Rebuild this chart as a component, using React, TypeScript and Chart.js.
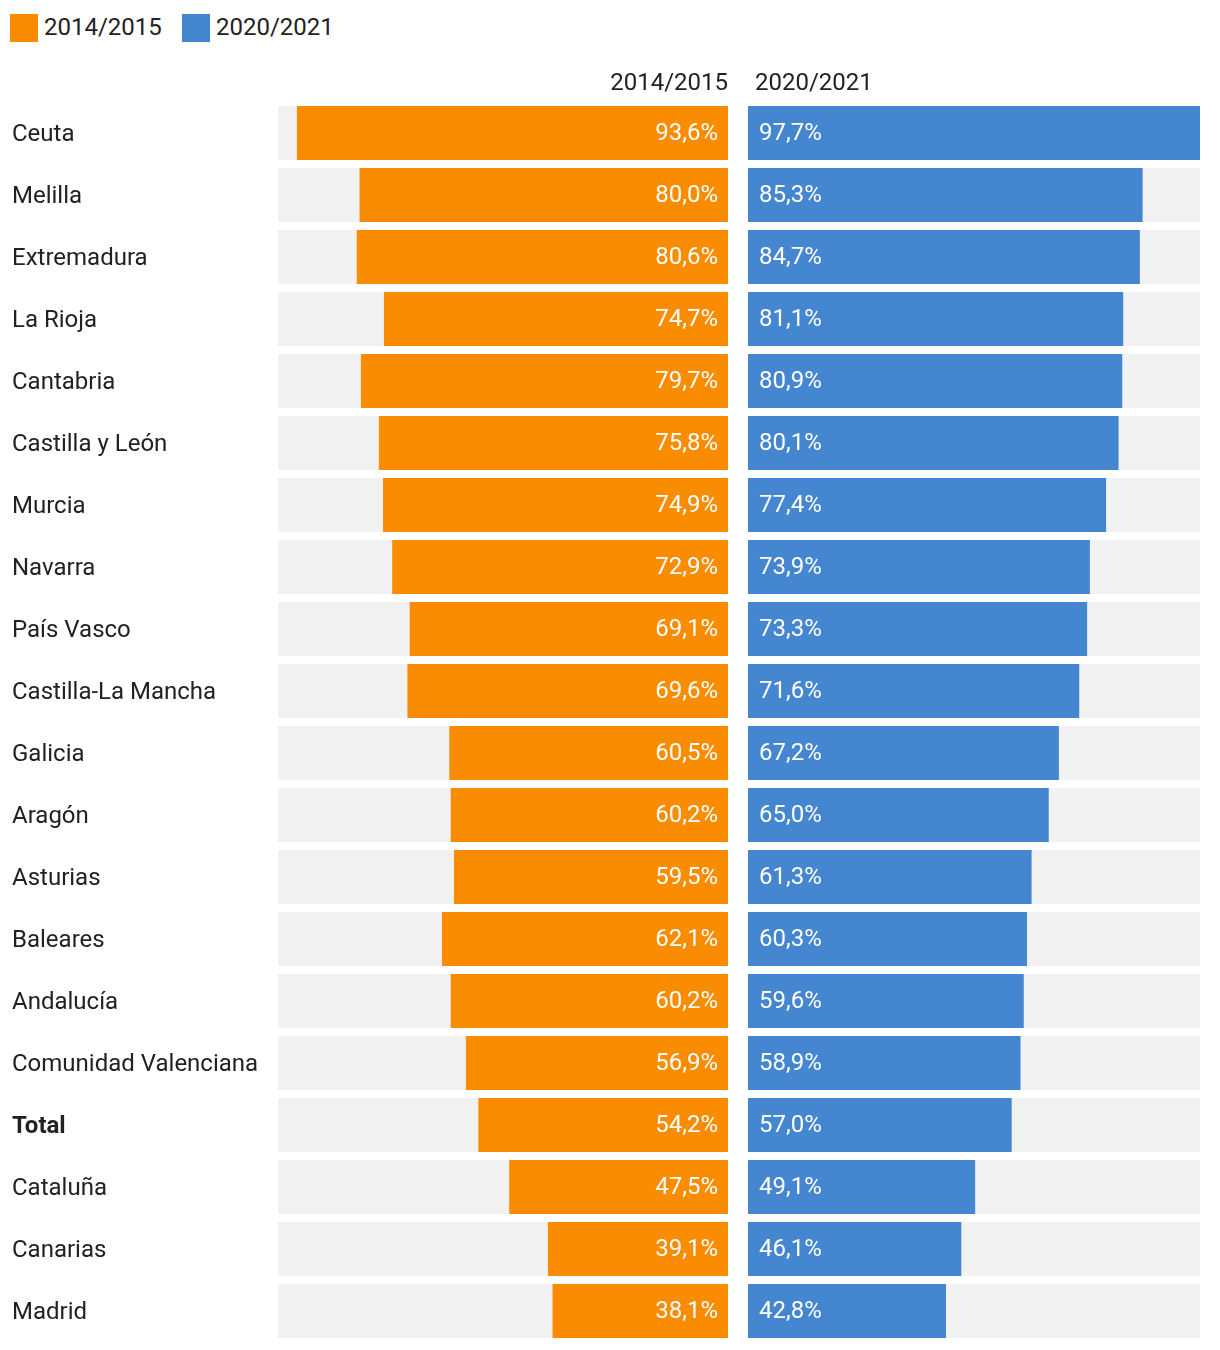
import React, { useEffect, useRef } from 'react';
import { Chart, registerables } from 'chart.js';

Chart.register(...registerables);

const REGIONS = [
  'Ceuta', 'Melilla', 'Extremadura', 'La Rioja', 'Cantabria', 'Castilla y León', 'Murcia',
  'Navarra', 'País Vasco', 'Castilla-La Mancha', 'Galicia', 'Aragón', 'Asturias', 'Baleares',
  'Andalucía', 'Comunidad Valenciana', 'Total', 'Cataluña', 'Canarias', 'Madrid',
];
const VALUES_2014 = [93.6, 80.0, 80.6, 74.7, 79.7, 75.8, 74.9, 72.9, 69.1, 69.6, 60.5, 60.2, 59.5, 62.1, 60.2, 56.9, 54.2, 47.5, 39.1, 38.1];
const VALUES_2020 = [97.7, 85.3, 84.7, 81.1, 80.9, 80.1, 77.4, 73.9, 73.3, 71.6, 67.2, 65.0, 61.3, 60.3, 59.6, 58.9, 57.0, 49.1, 46.1, 42.8];
const SERIES_LABELS = ['2014/2015', '2020/2021'];
const BOLD_CATEGORY = 'Total';

const ORANGE = '#F98C00';
const BLUE = '#4486CF';
const TRACK = '#F2F2F2';
const TEXT = '#222222';
const FONT = 'Roboto';

const MAX = Math.max(...VALUES_2014, ...VALUES_2020);
const fmt = (v: number) => v.toFixed(1).replace('.', ',') + '%';

function panelPlugin(side: 'left' | 'right', header: string) {
  return {
    id: 'panelText' + side,
    afterDatasetsDraw(chart: any) {
      const { ctx, chartArea } = chart;
      const meta = chart.getDatasetMeta(0);
      const values = chart.data.datasets[0].data as number[];
      ctx.save();
      ctx.font = `24px ${FONT}`;
      ctx.textBaseline = 'middle';
      ctx.fillStyle = '#ffffff';
      meta.data.forEach((bar: any, i: number) => {
        const { y, base } = bar.getProps(['y', 'base'], true);
        if (side === 'left') {
          ctx.textAlign = 'right';
          ctx.fillText(fmt(values[i]), base - 10, y + 1);
        } else {
          ctx.textAlign = 'left';
          ctx.fillText(fmt(values[i]), base + 11, y + 1);
        }
      });
      ctx.fillStyle = TEXT;
      ctx.textBaseline = 'alphabetic';
      if (side === 'left') {
        ctx.textAlign = 'right';
        ctx.fillText(header, chartArea.right, chartArea.top - 12);
      } else {
        ctx.textAlign = 'left';
        ctx.fillText(header, chartArea.left + 7, chartArea.top - 12);
      }
      ctx.restore();
    },
  };
}

function makeConfig(side: 'left' | 'right'): any {
  const values = side === 'left' ? VALUES_2014 : VALUES_2020;
  const color = side === 'left' ? ORANGE : BLUE;
  const label = side === 'left' ? SERIES_LABELS[0] : SERIES_LABELS[1];
  const barShape = { grouped: false, categoryPercentage: 1, barPercentage: 54 / 62, borderWidth: 0 };
  return {
    type: 'bar',
    data: {
      labels: REGIONS,
      datasets: [
        { label, data: values, backgroundColor: color, order: 0, ...barShape },
        { label: 'track', data: REGIONS.map(() => MAX), backgroundColor: TRACK, order: 1, ...barShape },
      ],
    },
    options: {
      indexAxis: 'y',
      responsive: false,
      animation: false,
      devicePixelRatio: 1,
      layout: { padding: { left: side === 'left' ? 4 : 0, top: 44, right: 0, bottom: 0 } },
      scales: {
        x: { display: false, min: 0, max: MAX, reverse: side === 'left' },
        y: side === 'left'
          ? {
              grid: { display: false },
              border: { display: false },
              ticks: {
                crossAlign: 'far',
                labelOffset: 2,
                color: TEXT,
                font: (c: any) => ({
                  family: FONT,
                  size: 24,
                  weight: c.tick && c.tick.label === BOLD_CATEGORY ? 'bold' : 'normal',
                }),
              },
              afterFit(scale: any) {
                scale.width = 266;
                scale.paddingTop = 0;
                scale.paddingBottom = 0;
              },
            }
          : { display: false },
      },
      plugins: { legend: { display: false }, tooltip: { enabled: false } },
    },
    plugins: [panelPlugin(side, label)],
  };
}

export default function App() {
  const leftRef = useRef<HTMLCanvasElement>(null);
  const rightRef = useRef<HTMLCanvasElement>(null);

  useEffect(() => {
    const left = new Chart(leftRef.current as HTMLCanvasElement, makeConfig('left'));
    const right = new Chart(rightRef.current as HTMLCanvasElement, makeConfig('right'));
    return () => {
      left.destroy();
      right.destroy();
    };
  }, []);

  const legendText: React.CSSProperties = {
    position: 'absolute',
    top: 5,
    height: 28,
    lineHeight: '28px',
    fontSize: 24,
    color: TEXT,
    whiteSpace: 'nowrap',
  };
  const box: React.CSSProperties = { position: 'absolute', top: 6, width: 28, height: 28 };

  return (
    <div style={{ position: 'relative', width: 1204, height: 1334, fontFamily: FONT }}>
      <div style={{ ...box, left: 2, background: ORANGE }} />
      <div style={{ ...legendText, left: 36 }}>{SERIES_LABELS[0]}</div>
      <div style={{ ...box, left: 174, background: BLUE }} />
      <div style={{ ...legendText, left: 208 }}>{SERIES_LABELS[1]}</div>
      <canvas
        ref={leftRef}
        width={720}
        height={1284}
        style={{ position: 'absolute', left: 0, top: 50, width: 720, height: 1284, display: 'block' }}
      />
      <canvas
        ref={rightRef}
        width={452}
        height={1284}
        style={{ position: 'absolute', left: 740, top: 50, width: 452, height: 1284, display: 'block' }}
      />
    </div>
  );
}
